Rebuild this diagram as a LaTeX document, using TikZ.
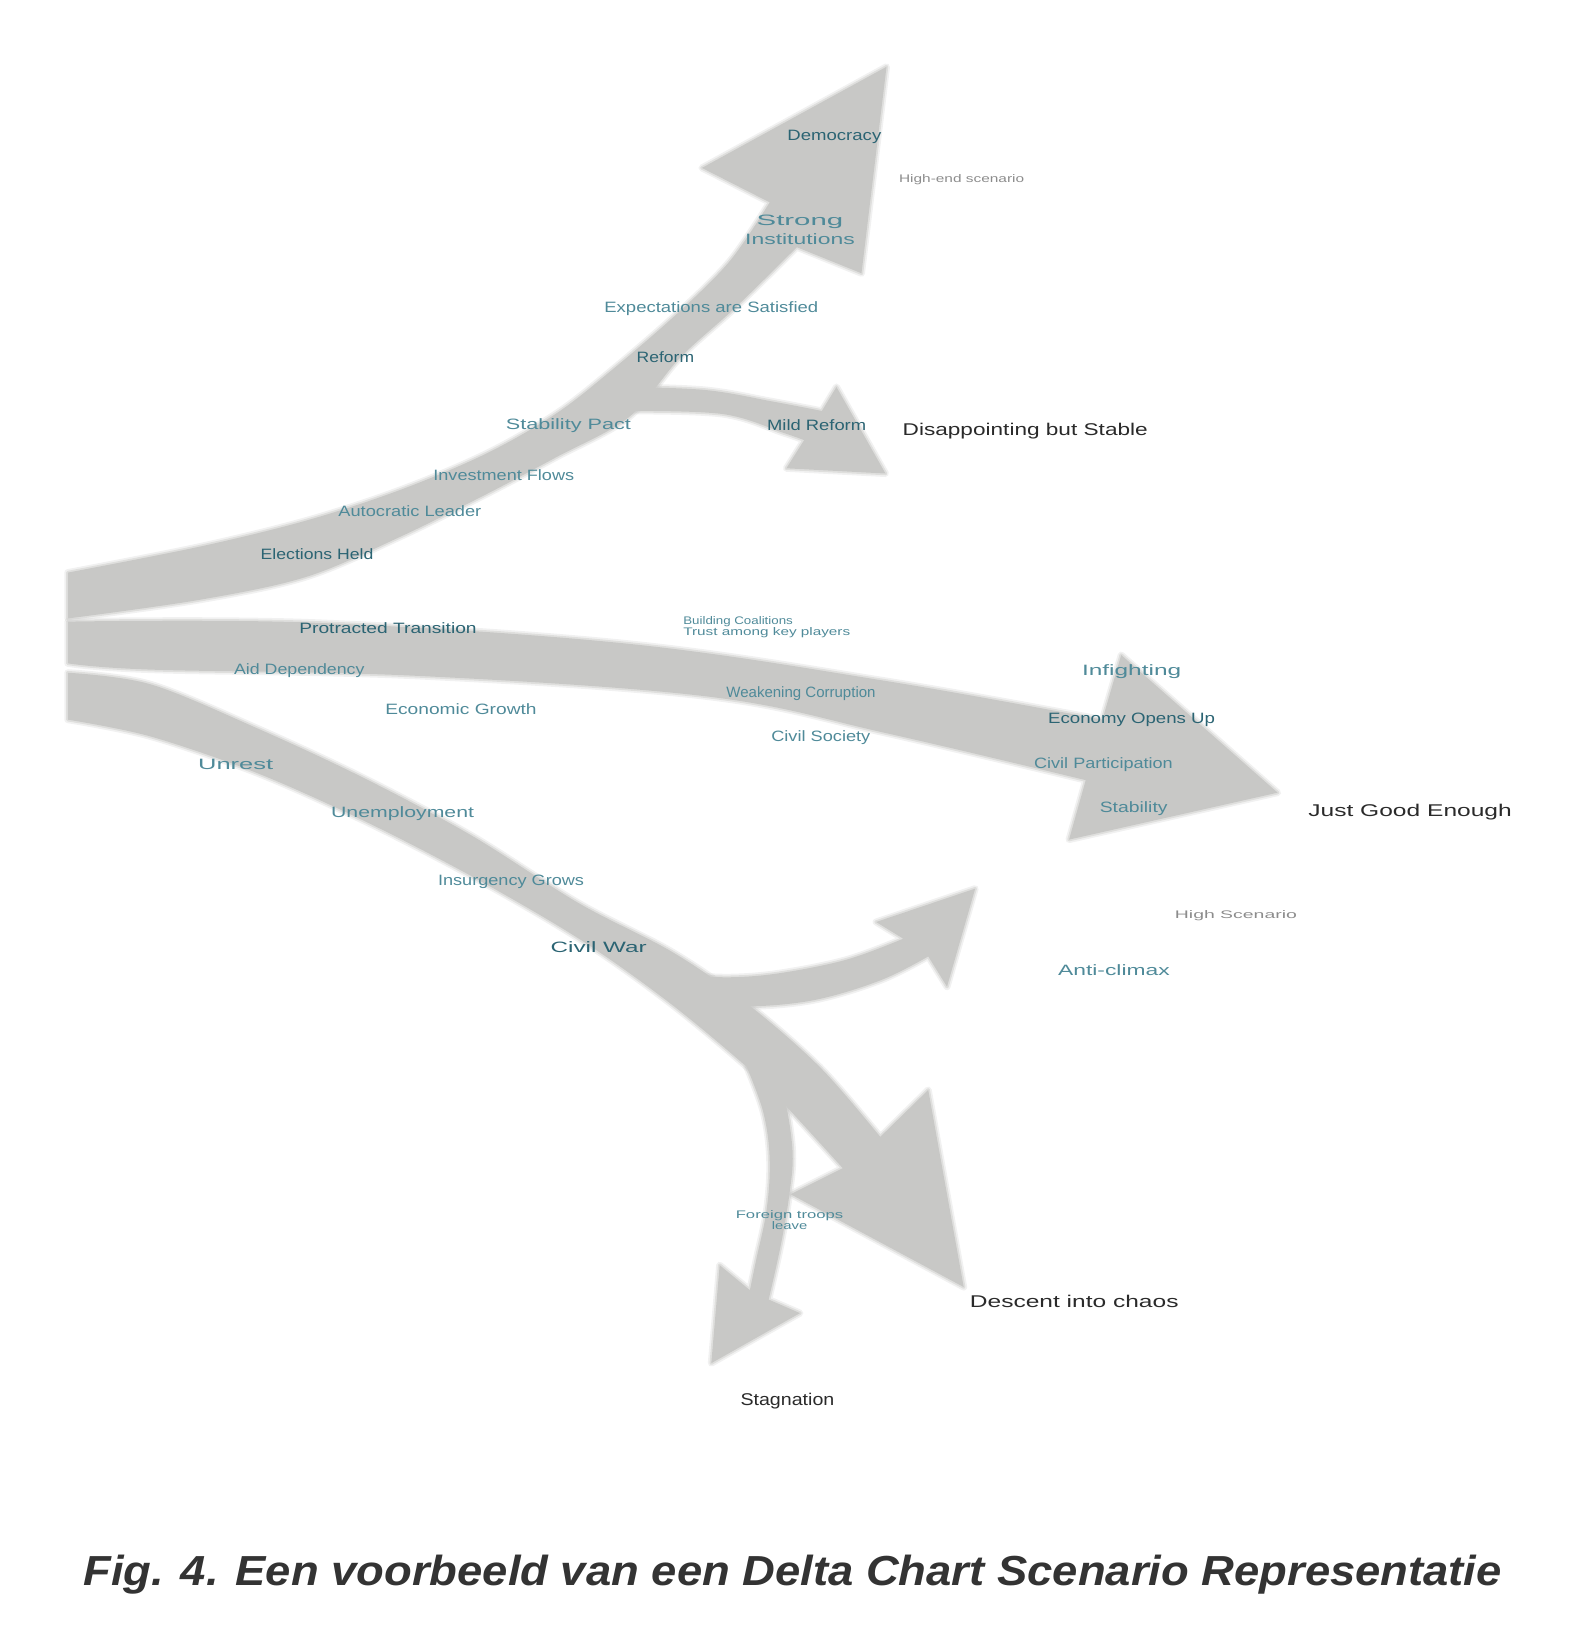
\documentclass[tikz,border=0pt]{standalone}
\usepackage{fontspec}
\setmainfont{Liberation Sans}
\usepackage{graphicx}
\definecolor{bandgray}{HTML}{C8C8C6}
\definecolor{lblteal}{HTML}{2B6473}
\definecolor{lbltealL}{HTML}{4F8A99}
\definecolor{outtext}{HTML}{2A2A2A}
\definecolor{notegray}{HTML}{8C8C8C}
\definecolor{captext}{HTML}{333333}
\newcommand\fitw[2]{\resizebox{\dimexpr#1pt*1043/1000\relax}{\height}{#2}}
\tikzset{
  band/.style={fill=bandgray},
  softA/.style={draw=bandgray, line width=7pt, opacity=0.25, line join=round},
  softB/.style={draw=bandgray, line width=3.5pt, opacity=0.45, line join=round},
  lab/.style={font=\fontsize{15}{17}\selectfont, text=lblteal, inner sep=0pt},
  labL/.style={lab, text=lbltealL},
  labS/.style={font=\fontsize{11}{12}\selectfont, text=lbltealL, inner sep=0pt, align=left},
  outl/.style={font=\fontsize{17}{19}\selectfont, text=outtext, inner sep=0pt},
  notel/.style={font=\fontsize{11}{12}\selectfont, text=notegray, inner sep=0pt},
}
% arrow outlines
\def\arrTop{plot[smooth, tension=0.55] coordinates {(65,549) (192,524) (294,499) (383,470) (466,435) (534,396) (590,352) (650,300) (700,250) (738,194)}
  -- (673,161) -- (850,64) -- (826,262)
  -- plot[smooth, tension=0.55] coordinates {(764,237) (705,295) (652,343) (603,400) (534,438) (466,474) (383,515) (294,553) (192,575) (65,593)} -- cycle}
\def\arrTopB{plot[smooth, tension=0.6] coordinates {(600,371) (677,374) (741,385) (788,394)}
  -- (802,371) -- (849,454) -- (754,449)
  -- plot[smooth, tension=0.6] coordinates {(771,422) (751,415) (693,397) (600,394)} -- cycle}
\def\arrMid{plot[smooth, tension=0.6] coordinates {(65,596) (300,597) (600,617) (850,653) (1057,690)}
  -- (1075,628) -- (1225,760) -- (1025,805)
  -- plot[smooth, tension=0.6] coordinates {(1041,748) (850,703) (680,668) (400,648) (144,642) (65,636)} -- cycle}
\def\arrBot{plot[smooth, tension=0.55] coordinates {(65,645) (144,656) (246,698) (349,746) (452,801) (555,866) (645,913) (716,962) (786,1023) (844,1090)}
  -- (890,1045) -- (924,1234) -- (758,1145)
  -- plot[smooth, tension=0.55] coordinates {(808,1120) (754,1061) (716,1023) (640,960) (555,900) (452,840) (349,787) (246,741) (144,706) (65,690)} -- cycle}
\def\arrBotUp{plot[smooth, tension=0.6] coordinates {(660,935) (700,937) (748,933) (812,920) (866,900)}
  -- (840,884) -- (935,852) -- (908,946)
  -- plot[smooth, tension=0.6] coordinates {(890,917) (844,940) (780,959) (716,965) (690,960)} -- cycle}
\def\arrBotDown{(740,1030) -- plot[smooth, tension=0.6] coordinates {(716,1023) (732,1067) (738,1112) (735,1160) (725,1208) (719,1237)}
  -- (690,1213) -- (682,1307) -- (767,1259)
  -- plot[smooth, tension=0.6] coordinates {(737,1246) (749,1192) (757,1144) (760,1106) (754,1061) (745,1035)} -- cycle}
\begin{document}
\begin{tikzpicture}[x=1.043pt,y=-1.043pt]
\useasboundingbox (0,0) rectangle (1530.2,1568.6);
% soft edges first
\foreach \p in {\arrTop,\arrTopB,\arrMid,\arrBot,\arrBotUp,\arrBotDown}{
  \path[softA] \p; \path[softB] \p;
}
% solid fills
\fill[band] \arrTop;
\fill[band] \arrTopB;
\fill[band] \arrMid;
\fill[band] \arrBot;
\fill[band] \arrBotUp;
\fill[band] \arrBotDown;
% ---------- labels: top branch ----------
\node[lab] (democracy) at (800,131) {\fitw{90}{Democracy}};
\node[notel] (highend) at (922,172) {\fitw{120}{High-end scenario}};
\node[labL, align=center] (strong) at (767,220) {\fitw{83}{Strong}\\[2pt]\fitw{105}{Institutions}};
\node[labL] (expect) at (682,296) {\fitw{205}{Expectations are Satisfied}};
\node[lab] (reform) at (638,342) {\fitw{55}{Reform}};
\node[labL] (pact) at (545,408) {\fitw{120}{Stability Pact}};
\node[labL] (invest) at (483,456) {\fitw{135}{Investment Flows}};
\node[labL] (autocrat) at (393,490) {\fitw{137}{Autocratic Leader}};
\node[lab] (elections) at (304,531) {\fitw{108}{Elections Held}};
\node[lab] (mild) at (783,408) {\fitw{95}{Mild Reform}};
\node[outl] (disap) at (983,413) {\fitw{235}{Disappointing but Stable}};
% ---------- labels: middle branch ----------
\node[lab] (protracted) at (372,602) {\fitw{170}{Protracted Transition}};
\node[labL] (aid) at (287,643) {\fitw{125}{Aid Dependency}};
\node[labL] (econgrowth) at (442,680) {\fitw{145}{Economic Growth}};
\node[labS, anchor=west] (coal) at (655,601) {\fitw{105}{Building Coalitions}\\[-1pt]\fitw{160}{Trust among key players}};
\node[labL] (corrupt) at (768,665) {\fitw{143}{Weakening Corruption}};
\node[labL] (civsoc) at (787,707) {\fitw{95}{Civil Society}};
\node[labL] (infight) at (1085,644) {\fitw{95}{Infighting}};
\node[lab] (opens) at (1085,690) {\fitw{160}{Economy Opens Up}};
\node[labL] (civpart) at (1058,733) {\fitw{133}{Civil Participation}};
\node[labL] (stab) at (1087,775) {\fitw{65}{Stability}};
\node[outl] (justgood) at (1352,779) {\fitw{195}{Just Good Enough}};
\node[notel] (highscen) at (1185,878) {\fitw{117}{High Scenario}};
\node[labL] (anticl) at (1068,930) {\fitw{107}{Anti-climax}};
% ---------- labels: bottom branch ----------
\node[labL] (unrest) at (226,733) {\fitw{72}{Unrest}};
\node[labL] (unemp) at (386,780) {\fitw{137}{Unemployment}};
\node[labL] (insurg) at (490,845) {\fitw{140}{Insurgency Grows}};
\node[lab] (civwar) at (574,908) {\fitw{92}{Civil War}};
\node[labS, align=center] (foreign) at (757,1170) {\fitw{103}{Foreign troops}\\[-1pt]\fitw{34}{leave}};
\node[outl] (descent) at (1030,1248) {\fitw{200}{Descent into chaos}};
\node[outl] (stagn) at (755,1343) {\fitw{90}{Stagnation}};
% ---------- caption ----------
\node[font=\fontsize{42}{46}\selectfont\bfseries\itshape, text=captext, inner sep=0pt] (caption) at (760,1510)
  {\fitw{1360}{Fig. 4. Een voorbeeld van een Delta Chart Scenario Representatie}};
\end{tikzpicture}
\end{document}
